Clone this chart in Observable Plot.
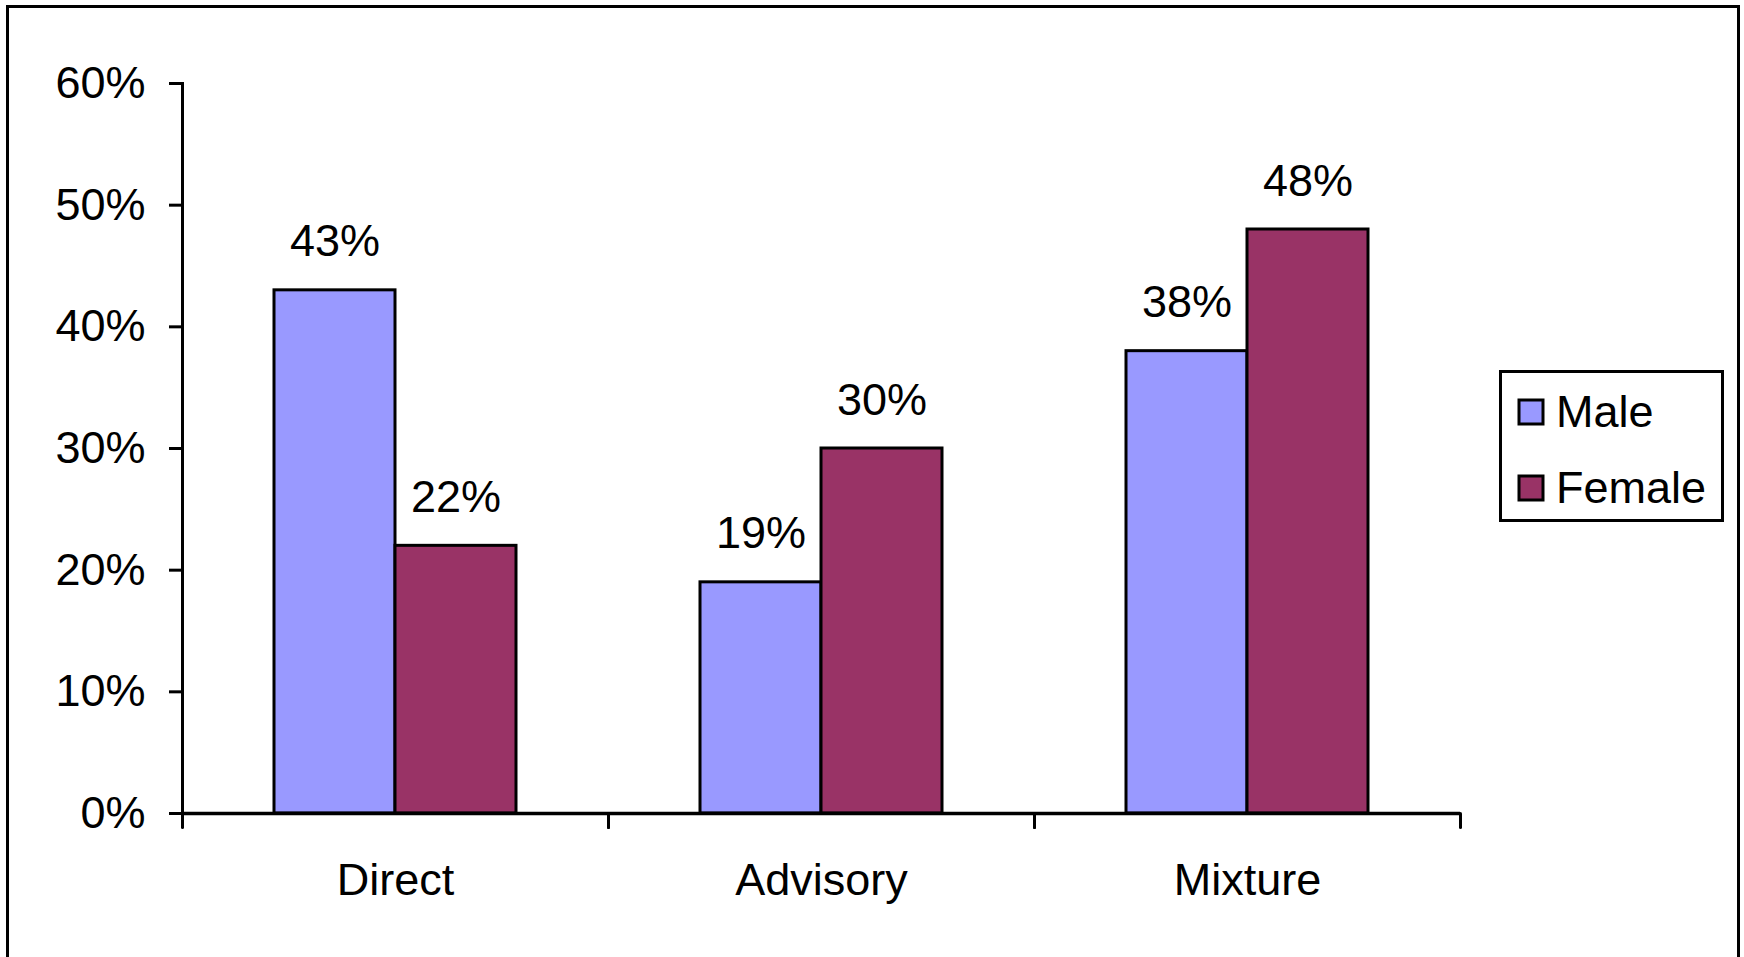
<!DOCTYPE html>
<html>
<head>
<meta charset="utf-8">
<script src="https://cdn.jsdelivr.net/npm/d3@7"></script>
<script src="https://cdn.jsdelivr.net/npm/@observablehq/plot@0.6"></script>
<style>
  html, body { margin: 0; padding: 0; overflow: hidden; background: #fff; }
  #page { position: relative; width: 1744px; height: 957px; overflow: hidden; font-family: "Liberation Sans", Arial, sans-serif; }
  #chart { position: absolute; left: 0; top: 0; }
  #border { position: absolute; left: 6px; top: 5px; width: 1728px; height: 980px; border: 3px solid #000; }
  #key { position: absolute; left: 1499px; top: 370px; width: 219px; height: 146px; border: 3px solid #000; background: #fff; }
  #key .key-swatches { margin: 0; padding-top: 1px; font-family: "Liberation Sans", Arial, sans-serif; font-size: 45px; color: #000; }
  #key .key-swatch { height: 76px; padding: 0 0 0 17px; display: flex; align-items: center; }
  #key .key-swatch > svg { margin-right: 13px; overflow: visible; }
  #key .key-swatch rect { stroke: #000; stroke-width: 3px; }
  #key .key-swatch-label { overflow: visible; }
</style>
</head>
<body>
<div id="page">
  <div id="chart"></div>
  <div id="border"></div>
  <div id="key"></div>
</div>
<script>
// Share of respondents by preferred style, split by sex
const categories = ["Direct", "Advisory", "Mixture"];
const sexes = ["Male", "Female"];
const maleShares = [0.43, 0.19, 0.38];
const femaleShares = [0.22, 0.30, 0.48];
const yTicks = [0, 0.1, 0.2, 0.3, 0.4, 0.5, 0.6];
const sexColors = ["#9999FF", "#993366"];

const rows = categories.flatMap((category, i) => [
  {category, sex: sexes[0], value: maleShares[i]},
  {category, sex: sexes[1], value: femaleShares[i]}
]);

const pct = d3.format(".0%");

// short downward tick drawn at each category boundary
const tickShape = {
  draw(context, l) {
    context.moveTo(0, 0);
    context.lineTo(0, -l);
  }
};

const chart = Plot.plot({
  width: 1744,
  height: 957,
  marginLeft: 181,
  marginRight: 284,
  marginTop: 83,
  marginBottom: 144,
  style: {
    fontFamily: "'Liberation Sans', Arial, sans-serif",
    fontSize: "45px",
    color: "#000",
    background: "transparent",
    overflow: "visible"
  },
  fx: {domain: categories, paddingInner: 0, paddingOuter: 0, axis: null},
  x: {domain: sexes, paddingInner: 0, paddingOuter: 0.76, axis: null},
  y: {domain: [0, 0.6], axis: null},
  color: {domain: sexes, range: sexColors},
  marks: [
    Plot.barY(rows, {fx: "category", x: "sex", y: "value", fill: "sex", stroke: "#000", strokeWidth: 3}),
    Plot.ruleY([0], {stroke: "#000", strokeWidth: 3.5}),
    Plot.frame({anchor: "left", facetAnchor: "left", stroke: "#000", strokeWidth: 3}),
    Plot.axisY({ticks: yTicks, tickFormat: pct, tickSize: 13, tickPadding: 24, strokeWidth: 3, label: null}),
    Plot.axisFx({anchor: "bottom", tickSize: 0, tickPadding: 50, label: null}),
    Plot.vector([0], {frameAnchor: "bottom-left", length: 14, rotate: 180, anchor: "start", shape: tickShape, stroke: "#000", strokeWidth: 3}),
    Plot.vector([0], {frameAnchor: "bottom-right", length: 14, rotate: 180, anchor: "start", shape: tickShape, stroke: "#000", strokeWidth: 3}),
    Plot.text(rows, {fx: "category", x: "sex", y: "value", text: (d) => pct(d.value), lineAnchor: "bottom", dy: -34, fill: "#000"})
  ]
});

document.getElementById("chart").append(chart);

const key = Plot.legend({
  color: {domain: sexes, range: sexColors},
  legend: "swatches",
  columns: 1,
  swatchSize: 24,
  className: "key"
});
document.getElementById("key").append(key);
</script>
</body>
</html>
